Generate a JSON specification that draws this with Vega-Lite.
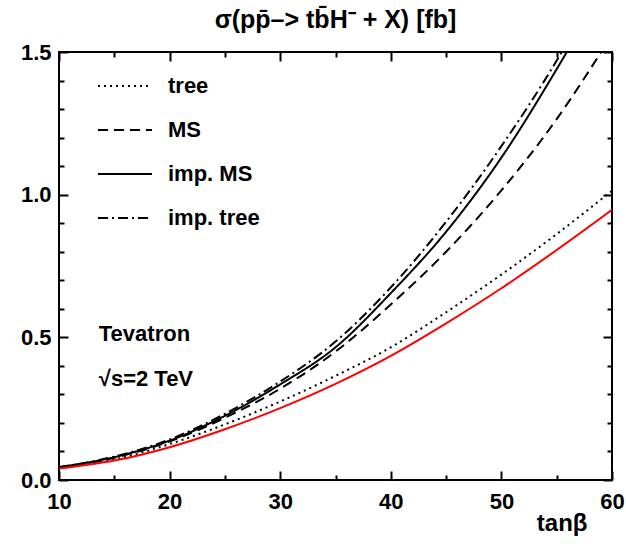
{
  "$schema": "https://vega.github.io/schema/vega-lite/v6.json",
  "width": 553,
  "height": 428,
  "autosize": {"type": "none"},
  "padding": {"left": 59, "top": 52, "right": 14, "bottom": 64},
  "background": "white",
  "config": {
    "view": {"stroke": "black", "strokeWidth": 2},
    "font": "Liberation Sans"
  },
  "title": {
    "text": "σ(pp̄–> tb̄H⁻ + X) [fb]",
    "font": "Liberation Sans",
    "fontSize": 25,
    "fontWeight": "bold",
    "color": "black",
    "anchor": "middle",
    "frame": "group",
    "baseline": "bottom",
    "offset": 0,
    "dy": 17
  },
  "datasets": {
    "red": [
      {"t": 10, "v": 0.040}, {"t": 15, "v": 0.068}, {"t": 20, "v": 0.115},
      {"t": 25, "v": 0.178}, {"t": 30, "v": 0.252}, {"t": 35, "v": 0.337},
      {"t": 40, "v": 0.435}, {"t": 45, "v": 0.549}, {"t": 50, "v": 0.672},
      {"t": 55, "v": 0.806}, {"t": 60, "v": 0.947}
    ],
    "black": [
      {"curve": "tree", "t": 10, "v": 0.042}, {"curve": "tree", "t": 15, "v": 0.072},
      {"curve": "tree", "t": 20, "v": 0.126}, {"curve": "tree", "t": 25, "v": 0.195},
      {"curve": "tree", "t": 30, "v": 0.275}, {"curve": "tree", "t": 35, "v": 0.365},
      {"curve": "tree", "t": 40, "v": 0.465}, {"curve": "tree", "t": 45, "v": 0.588},
      {"curve": "tree", "t": 50, "v": 0.72}, {"curve": "tree", "t": 55, "v": 0.862},
      {"curve": "tree", "t": 60, "v": 1.014},
      {"curve": "MS", "t": 10, "v": 0.044}, {"curve": "MS", "t": 15, "v": 0.078},
      {"curve": "MS", "t": 20, "v": 0.135}, {"curve": "MS", "t": 25, "v": 0.218},
      {"curve": "MS", "t": 30, "v": 0.32}, {"curve": "MS", "t": 35, "v": 0.45},
      {"curve": "MS", "t": 40, "v": 0.615}, {"curve": "MS", "t": 45, "v": 0.80},
      {"curve": "MS", "t": 50, "v": 1.015}, {"curve": "MS", "t": 55, "v": 1.265},
      {"curve": "MS", "t": 60, "v": 1.56},
      {"curve": "imp. MS", "t": 10, "v": 0.045}, {"curve": "imp. MS", "t": 15, "v": 0.08},
      {"curve": "imp. MS", "t": 20, "v": 0.138}, {"curve": "imp. MS", "t": 25, "v": 0.225},
      {"curve": "imp. MS", "t": 30, "v": 0.335}, {"curve": "imp. MS", "t": 35, "v": 0.465},
      {"curve": "imp. MS", "t": 40, "v": 0.655}, {"curve": "imp. MS", "t": 45, "v": 0.87},
      {"curve": "imp. MS", "t": 50, "v": 1.13}, {"curve": "imp. MS", "t": 55, "v": 1.44},
      {"curve": "imp. MS", "t": 60, "v": 1.78},
      {"curve": "imp. tree", "t": 10, "v": 0.045}, {"curve": "imp. tree", "t": 15, "v": 0.082},
      {"curve": "imp. tree", "t": 20, "v": 0.142}, {"curve": "imp. tree", "t": 25, "v": 0.232},
      {"curve": "imp. tree", "t": 30, "v": 0.345}, {"curve": "imp. tree", "t": 35, "v": 0.485},
      {"curve": "imp. tree", "t": 40, "v": 0.675}, {"curve": "imp. tree", "t": 45, "v": 0.905},
      {"curve": "imp. tree", "t": 50, "v": 1.17}, {"curve": "imp. tree", "t": 55, "v": 1.47},
      {"curve": "imp. tree", "t": 60, "v": 1.82}
    ],
    "labels": [
      {"t": 13.6, "v": 0.51, "label": "Tevatron"},
      {"t": 13.6, "v": 0.355, "label": "√s=2 TeV"}
    ]
  },
  "resolve": {"axis": {"x": "independent", "y": "independent"}},
  "layer": [
    {
      "data": {"name": "black"},
      "mark": {"type": "line", "color": "black", "strokeWidth": 2, "clip": true, "interpolate": "monotone"},
      "encoding": {
        "x": {
          "field": "t", "type": "quantitative",
          "scale": {"domain": [10, 60], "nice": false, "zero": false},
          "axis": {
            "orient": "bottom",
            "values": [10, 15, 20, 25, 30, 35, 40, 45, 50, 55, 60],
            "domain": false, "grid": false,
            "tickSize": {"condition": {"test": "datum.value % 10 === 0", "value": -9}, "value": -5},
            "tickWidth": 2, "tickColor": "black",
            "labelExpr": "datum.value % 10 === 0 ? datum.label : ''",
            "labelFont": "Liberation Sans", "labelFontSize": 22, "labelFontWeight": "bold",
            "labelColor": "black", "labelPadding": 20, "labelFlush": false, "labelOverlap": false,
            "title": "tanβ", "titleFont": "Liberation Sans", "titleFontSize": 24, "titleFontWeight": "bold",
            "titleColor": "black", "titleAnchor": "end", "titleAlign": "right", "titleX": 528, "titleY": 50,
            "titleBaseline": "alphabetic"
          }
        },
        "y": {
          "field": "v", "type": "quantitative",
          "scale": {"domain": [0, 1.5], "nice": false, "zero": true},
          "axis": {
            "orient": "left",
            "values": [0, 0.1, 0.2, 0.3, 0.4, 0.5, 0.6, 0.7, 0.8, 0.9, 1.0, 1.1, 1.2, 1.3, 1.4, 1.5],
            "domain": false, "grid": false,
            "tickSize": {"condition": {"test": "abs(datum.value*2 - round(datum.value*2)) < 0.001", "value": -9}, "value": -5},
            "tickWidth": 2, "tickColor": "black",
            "format": ".1f",
            "labelExpr": "abs(datum.value*2 - round(datum.value*2)) < 0.001 ? datum.label : ''",
            "labelFont": "Liberation Sans", "labelFontSize": 22, "labelFontWeight": "bold",
            "labelColor": "black", "labelPadding": 17, "labelFlush": false, "labelOverlap": false,
            "title": null
          }
        },
        "strokeDash": {
          "field": "curve", "type": "nominal",
          "scale": {"domain": ["tree", "MS", "imp. MS", "imp. tree"], "range": [[2, 4], [10, 6], [1, 0], [10, 4, 2, 4]]},
          "legend": {
            "orient": "none", "legendX": 38, "legendY": 6, "title": null,
            "symbolType": "stroke", "symbolSize": 2916, "symbolStrokeWidth": 2, "symbolStrokeColor": "black",
            "labelFont": "Liberation Sans", "labelFontSize": 22, "labelFontWeight": "bold", "labelColor": "black",
            "labelOffset": 15, "rowPadding": 5, "padding": 0
          }
        }
      }
    },
    {
      "data": {"name": "red"},
      "mark": {"type": "line", "color": "red", "strokeWidth": 2, "clip": true, "interpolate": "monotone"},
      "encoding": {
        "x": {
          "field": "t", "type": "quantitative",
          "axis": {
            "orient": "top",
            "values": [10, 15, 20, 25, 30, 35, 40, 45, 50, 55, 60],
            "domain": false, "grid": false, "labels": false, "title": null,
            "tickSize": {"condition": {"test": "datum.value % 10 === 0", "value": -9}, "value": -5},
            "tickWidth": 2, "tickColor": "black"
          }
        },
        "y": {
          "field": "v", "type": "quantitative",
          "axis": {
            "orient": "right",
            "values": [0, 0.1, 0.2, 0.3, 0.4, 0.5, 0.6, 0.7, 0.8, 0.9, 1.0, 1.1, 1.2, 1.3, 1.4, 1.5],
            "domain": false, "grid": false, "labels": false, "title": null,
            "tickSize": {"condition": {"test": "abs(datum.value*2 - round(datum.value*2)) < 0.001", "value": -9}, "value": -5},
            "tickWidth": 2, "tickColor": "black"
          }
        }
      }
    },
    {
      "data": {"name": "labels"},
      "mark": {"type": "text", "align": "left", "baseline": "middle", "font": "Liberation Sans", "fontSize": 22, "fontWeight": "bold", "color": "black"},
      "encoding": {
        "x": {"field": "t", "type": "quantitative", "axis": null},
        "y": {"field": "v", "type": "quantitative", "axis": null},
        "text": {"field": "label"}
      }
    }
  ]
}
